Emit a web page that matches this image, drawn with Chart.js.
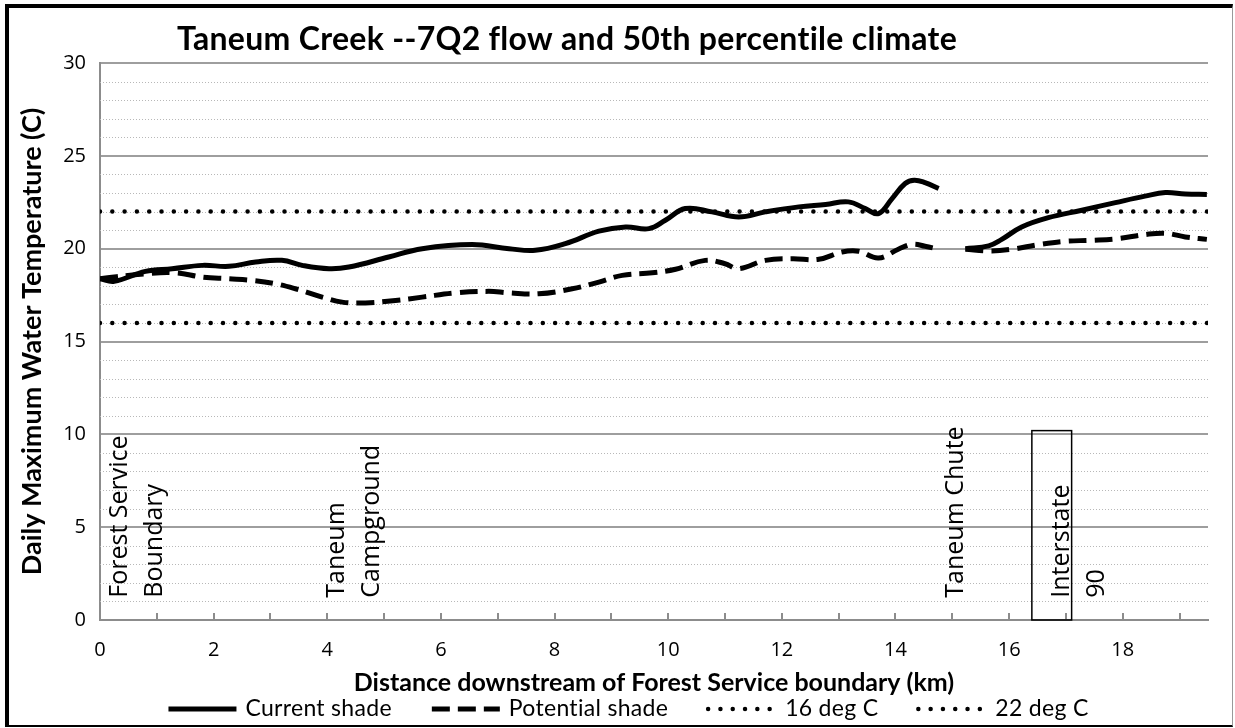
<!DOCTYPE html>
<html>
<head>
<meta charset="utf-8">
<script src="https://cdn.jsdelivr.net/npm/chart.js@4.4.1/dist/chart.umd.min.js"></script>
<style>
  html, body { margin: 0; padding: 0; background: #fff; overflow: hidden; }
  #wrap { position: relative; width: 1235px; height: 728px; }
  #chart { position: absolute; left: 0; top: 0; }
  #frame {
    position: absolute; left: 5px; top: 4px; width: 1228px; height: 723px;
    box-sizing: border-box; pointer-events: none;
    border-left: 4px solid #000; border-top: 4px solid #000;
    border-bottom: 2px solid #000; border-right: 1px solid #999;
  }
</style>
</head>
<body>
<div id="wrap">
  <canvas id="chart" width="1235" height="728"></canvas>
  <div id="frame"></div>
</div>
<script>
// Current shade (solid), km downstream vs temperature; null = gap in the record
const currentKm = [0, 0.25, 0.8, 1.27, 1.8, 2.27, 2.74, 3.2, 3.56, 4.03, 4.38, 5.08, 5.67, 6.55, 7.2, 7.66,
  8.19, 8.78, 9.25, 9.66, 9.95, 10.3, 10.77, 11.24, 11.71, 12.3, 12.77, 13.17, 13.47, 13.7, 13.94,
  14.17, 14.33, 14.52, 14.76, 15.0, 15.23, 15.64, 15.87, 16.22, 16.69, 17.28, 17.87, 18.39, 18.75,
  19.1, 19.48];
const currentTemp = [18.38, 18.24, 18.78, 18.92, 19.1, 19.05, 19.28, 19.37, 19.1, 18.92, 19.01, 19.55,
  20.0, 20.22, 20.0, 19.91, 20.27, 20.94, 21.17, 21.08, 21.53, 22.16, 21.98, 21.71, 21.98, 22.25,
  22.38, 22.52, 22.16, 21.89, 22.7, 23.51, 23.69, 23.56, 23.24, null, 20.0, 20.15, 20.5, 21.17,
  21.67, 22.07, 22.48, 22.83, 23.02, 22.94, 22.92];

// Potential shade (dashed)
const potentialKm = [0, 0.8, 1.33, 1.8, 2.27, 2.68, 3.09, 3.44, 3.91, 4.26, 4.67, 5.2, 5.67, 6.26, 6.84,
  7.19, 7.72, 8.31, 8.78, 9.19, 9.72, 10.13, 10.65, 11.0, 11.24, 11.71, 12.18, 12.65, 13.06, 13.35,
  13.7, 14.05, 14.3, 14.52, 14.76, 15.0, 15.23, 15.64, 16.05, 16.52, 16.99, 17.45, 17.92, 18.39,
  18.75, 19.1, 19.48];
const potentialTemp = [18.38, 18.65, 18.7, 18.47, 18.38, 18.29, 18.11, 17.84, 17.39, 17.12, 17.08, 17.21,
  17.39, 17.62, 17.7, 17.62, 17.57, 17.84, 18.2, 18.56, 18.7, 18.89, 19.37, 19.19, 18.92, 19.37,
  19.46, 19.43, 19.82, 19.86, 19.5, 19.97, 20.24, 20.13, 19.97, null, 19.97, 19.88, 19.97, 20.22,
  20.4, 20.45, 20.54, 20.76, 20.83, 20.63, 20.5];

// Reference criteria lines
const criteriaKm = [0, 19.5];
const criteria16 = [16, 16];
const criteria22 = [22, 22];

// Landmarks along the creek (km, rotated label)
const landmarkKm = [0.35, 0.97, 4.17, 4.78, 15.07, 16.92, 17.54];
const landmarkText = ['Forest Service', 'Boundary', 'Taneum', 'Campground', 'Taneum Chute', 'Interstate', '90'];
// Interstate 90 box: km range and top temperature
const interstateBoxKm = [16.4, 17.1];
const interstateBoxTop = 10.2;

const yTicks = [0, 5, 10, 15, 20, 25, 30];
const xTicks = [0, 2, 4, 6, 8, 10, 12, 14, 16, 18];
const xMax = 19.5;

const TITLE = 'Taneum Creek --7Q2 flow and 50th percentile climate';
const BOLD_FONT = 'Lato, "Open Sans", sans-serif';
const FONT = '"Open Sans", sans-serif';

function toPoints(xs, ys) {
  return xs.map((x, i) => ({ x: x, y: ys[i] }));
}

// Title, dotted minor grid, inward x ticks, landmark labels and legend
const decorations = {
  id: 'decorations',
  beforeDatasetsDraw(chart) {
    const { ctx, chartArea: a, scales: { x, y } } = chart;
    ctx.save();
    ctx.strokeStyle = '#b8b8b8';
    ctx.lineWidth = 1;
    ctx.setLineDash([1, 2]);
    for (let v = 1; v < 30; v++) {
      if (v % 5 === 0) continue;
      const py = Math.round(y.getPixelForValue(v)) + 0.5;
      ctx.beginPath();
      ctx.moveTo(a.left, py);
      ctx.lineTo(a.right, py);
      ctx.stroke();
    }
    ctx.setLineDash([]);
    ctx.strokeStyle = '#8c8c8c';
    ctx.lineWidth = 2;
    for (let k = 1; k <= Math.floor(xMax); k++) {
      const px = Math.round(x.getPixelForValue(k));
      ctx.beginPath();
      ctx.moveTo(px, a.bottom);
      ctx.lineTo(px, a.bottom - 7);
      ctx.stroke();
    }
    ctx.restore();
  },
  afterDatasetsDraw(chart) {
    const { ctx, scales: { x, y } } = chart;
    ctx.save();
    ctx.fillStyle = '#000';
    ctx.font = '25px ' + FONT;
    ctx.textAlign = 'left';
    ctx.textBaseline = 'middle';
    const base = y.getPixelForValue(1.2);
    landmarkKm.forEach((km, i) => {
      ctx.save();
      ctx.translate(x.getPixelForValue(km), base);
      ctx.rotate(-Math.PI / 2);
      ctx.fillText(landmarkText[i], 0, 0);
      ctx.restore();
    });
    const bx0 = x.getPixelForValue(interstateBoxKm[0]);
    const bx1 = x.getPixelForValue(interstateBoxKm[1]);
    const by0 = y.getPixelForValue(interstateBoxTop);
    const by1 = y.getPixelForValue(0);
    ctx.strokeStyle = '#000';
    ctx.lineWidth = 1.5;
    ctx.strokeRect(bx0, by0, bx1 - bx0, by1 - by0);

    ctx.letterSpacing = '0.3px';
    ctx.font = 'bold 32px ' + BOLD_FONT;
    ctx.textAlign = 'center';
    ctx.fillText(TITLE, 567, 40);
    ctx.restore();
  },
  afterDraw(chart) {
    // legend row along the bottom, built from the datasets
    const { ctx } = chart;
    const sampleW = 68, gapText = 9, gapItem = 40, rowY = 709;
    ctx.save();
    ctx.letterSpacing = '0.3px';
    ctx.font = '23px ' + BOLD_FONT;
    ctx.textBaseline = 'middle';
    ctx.textAlign = 'left';
    const items = chart.data.datasets.map(ds => ({ ds, w: ctx.measureText(ds.label).width }));
    const total = items.reduce((s, it) => s + sampleW + gapText + it.w, 0) + gapItem * (items.length - 1);
    let cx = chart.width / 2 + 11 - total / 2;
    items.forEach(({ ds, w }) => {
      ctx.save();
      ctx.strokeStyle = ds.borderColor;
      ctx.lineWidth = ds.borderWidth;
      ctx.lineCap = ds.borderCapStyle || 'butt';
      ctx.setLineDash(ds.borderDash || []);
      ctx.beginPath();
      ctx.moveTo(cx, rowY);
      ctx.lineTo(cx + sampleW, rowY);
      ctx.stroke();
      ctx.restore();
      ctx.fillStyle = '#000';
      ctx.fillText(ds.label, cx + sampleW + gapText, rowY);
      cx += sampleW + gapText + w + gapItem;
    });
    ctx.restore();
  }
};

new Chart(document.getElementById('chart'), {
  type: 'line',
  data: {
    datasets: [
      {
        label: 'Current shade',
        data: toPoints(currentKm, currentTemp),
        borderColor: '#000', backgroundColor: '#000',
        borderWidth: 5, tension: 0.4, pointRadius: 0, spanGaps: false
      },
      {
        label: 'Potential shade',
        data: toPoints(potentialKm, potentialTemp),
        borderColor: '#000', backgroundColor: '#000',
        borderWidth: 5, borderDash: [18, 8], tension: 0.4, pointRadius: 0, spanGaps: false
      },
      {
        label: '16 deg C',
        data: toPoints(criteriaKm, criteria16),
        borderColor: '#000', backgroundColor: '#000',
        borderWidth: 4.5, borderDash: [0, 12.3], borderCapStyle: 'round', pointRadius: 0
      },
      {
        label: '22 deg C',
        data: toPoints(criteriaKm, criteria22),
        borderColor: '#000', backgroundColor: '#000',
        borderWidth: 4.5, borderDash: [0, 12.3], borderCapStyle: 'round', pointRadius: 0
      }
    ]
  },
  options: {
    responsive: false,
    animation: false,
    events: [],
    layout: { padding: { left: 0, top: 63, right: 27, bottom: 4 } },
    scales: {
      x: {
        type: 'linear', min: 0, max: xMax,
        afterFit: (scale) => { scale.height = 728 - 4 - 620; },
        afterBuildTicks: (scale) => { scale.ticks = xTicks.map(v => ({ value: v })); },
        grid: { display: false, drawTicks: false },
        border: { display: true, color: '#8c8c8c', width: 2 },
        ticks: { padding: 18, color: '#000', font: { family: FONT, size: 20 }, maxRotation: 0, autoSkip: false },
        title: {
          display: true, text: 'Distance downstream of Forest Service boundary (km)',
          color: '#000', font: { family: BOLD_FONT, size: 25, weight: 'bold' }, padding: { top: 0, bottom: 26 }
        }
      },
      y: {
        min: 0, max: 30,
        afterFit: (scale) => { scale.width = 100; },
        afterBuildTicks: (scale) => { scale.ticks = yTicks.map(v => ({ value: v })); },
        grid: { color: '#9e9e9e', lineWidth: 2, drawTicks: false },
        border: { display: true, color: '#8c8c8c', width: 2 },
        ticks: { padding: 14, color: '#000', font: { family: FONT, size: 20 } },
        title: {
          display: true, text: 'Daily Maximum Water Temperature (C)',
          color: '#000', font: { family: BOLD_FONT, size: 27, weight: 'bold' }, padding: { top: 16, bottom: 0 }
        }
      }
    },
    plugins: {
      title: { display: false },
      tooltip: { enabled: false },
      legend: { display: false }
    }
  },
  plugins: [decorations]
});
</script>
</body>
</html>
